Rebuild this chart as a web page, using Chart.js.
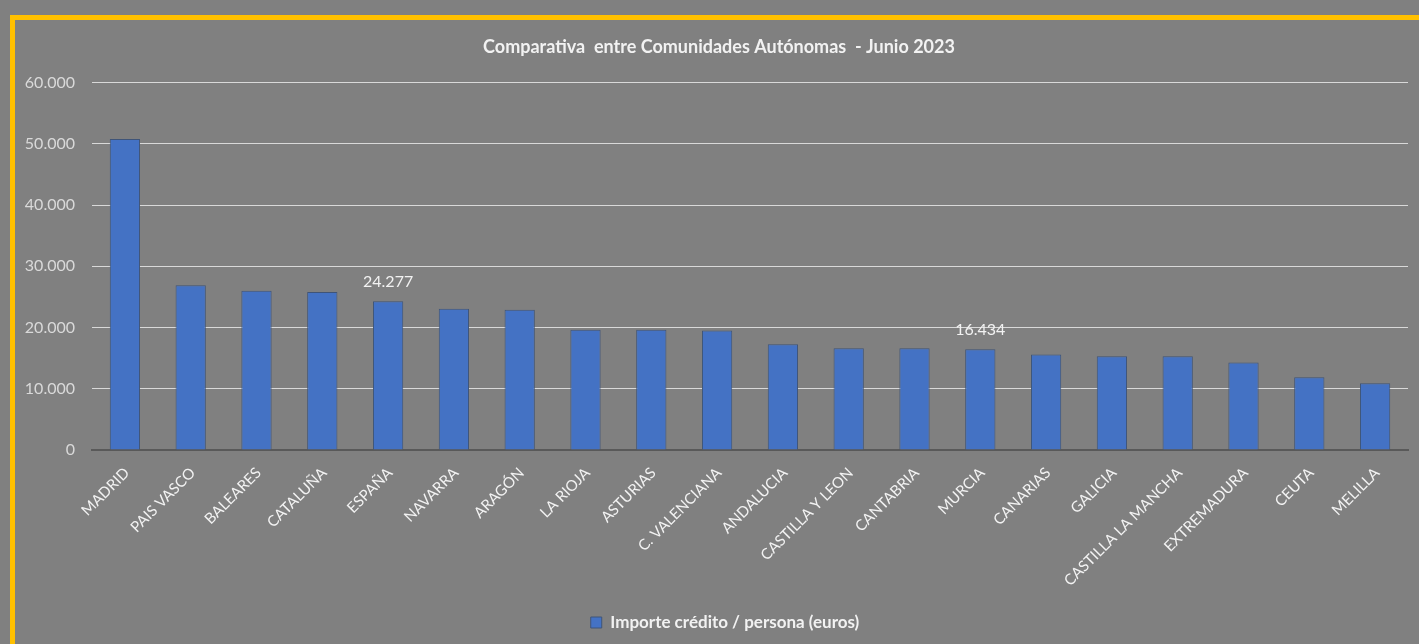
<!DOCTYPE html>
<html>
<head>
<meta charset="utf-8">
<script src="https://cdn.jsdelivr.net/npm/chart.js@4.4.1/dist/chart.umd.min.js"></script>
<style>
body{margin:0;background:#808080;overflow:hidden;}
#frame{position:absolute;left:10px;top:15px;width:1500px;height:700px;border:5px solid #FFC000;box-sizing:border-box;}
#wrap{position:absolute;left:0;top:0;width:1419px;height:644px;}
</style>
</head>
<body>
<div id="frame"></div>
<div id="wrap"><canvas id="chart" width="1419" height="644"></canvas></div>
<script>
/* ===== data ===== */
const regions=["MADRID","PAIS VASCO","BALEARES","CATALUÑA","ESPAÑA","NAVARRA","ARAGÓN","LA RIOJA","ASTURIAS","C. VALENCIANA","ANDALUCIA","CASTILLA Y LEON","CANTABRIA","MURCIA","CANARIAS","GALICIA","CASTILLA LA MANCHA","EXTREMADURA","CEUTA","MELILLA"];
const importe=[50800,26900,26000,25800,24277,23050,22900,19650,19650,19500,17250,16600,16600,16434,15600,15300,15300,14300,11900,10900];
const labeledBars=["ESPAÑA","MURCIA"];
const yTicks=[0,10000,20000,30000,40000,50000,60000];

const seriesName="Importe crédito / persona (euros)";
const chartTitle="Comparativa  entre Comunidades Autónomas  - Junio 2023";

function fmt(v){
return String(Math.round(v)).replace(/\B(?=(\d{3})+(?!\d))/g,".");
}

/* labels only on selected bars */
const barLabels={
id:"barLabels",
afterDatasetsDraw(chart){
const ctx=chart.ctx;
const meta=chart.getDatasetMeta(0);
ctx.save();
ctx.font="16px Lato";
ctx.fillStyle="#f2f2f2";
ctx.textAlign="center";
ctx.textBaseline="middle";
meta.data.forEach((bar,i)=>{
if(labeledBars.includes(regions[i])){
ctx.fillText(fmt(importe[i]),bar.x,bar.y-20);
}
});
ctx.restore();
}
};

/* title and legend sit a bit right of the canvas centre */
const nudge={
id:"nudge",
afterLayout(chart){
chart.titleBlock.left+=15;chart.titleBlock.right+=15;
chart.legend.left+=21;chart.legend.right+=21;
}
};

new Chart(document.getElementById("chart"),{
type:"bar",
data:{
labels:regions,
datasets:[{
label:seriesName,
data:importe,
backgroundColor:"#4472C4",
borderColor:"#3f5478",
borderWidth:1,
barPercentage:0.46,
categoryPercentage:1
}]
},
plugins:[barLabels,nudge],
options:{
responsive:false,
animation:false,
layout:{padding:{left:0,right:11,top:0,bottom:3}},
plugins:{
tooltip:{enabled:false},
title:{
display:true,
text:chartTitle,
color:"#f2f2f2",
font:{family:"Lato",size:18,weight:"bold"},
padding:{top:36,bottom:25}
},
legend:{
position:"bottom",
labels:{
color:"#f2f2f2",
font:{family:"Lato",size:17,weight:"bold"},
boxWidth:11,
boxHeight:11,
padding:10
}
}
},
scales:{
x:{
grid:{display:false,drawTicks:false},
border:{display:true,color:"#595959",width:2},
ticks:{
color:"#f2f2f2",
font:{family:"Lato",size:15},
minRotation:45,
maxRotation:45,
autoSkip:false,
padding:14,
labelOffset:2
},
afterFit(s){s.height=154;}
},
y:{
min:0,
max:60000,
afterBuildTicks(s){s.ticks=yTicks.map(v=>({value:v}));},
grid:{color:"#d9d9d9",lineWidth:1,drawTicks:false},
border:{display:false},
ticks:{
color:"#d9d9d9",
font:{family:"Lato",size:16},
padding:17,
callback:v=>fmt(v)
},
afterFit(s){s.width=92;}
}
}
}
});
</script>
</body>
</html>
